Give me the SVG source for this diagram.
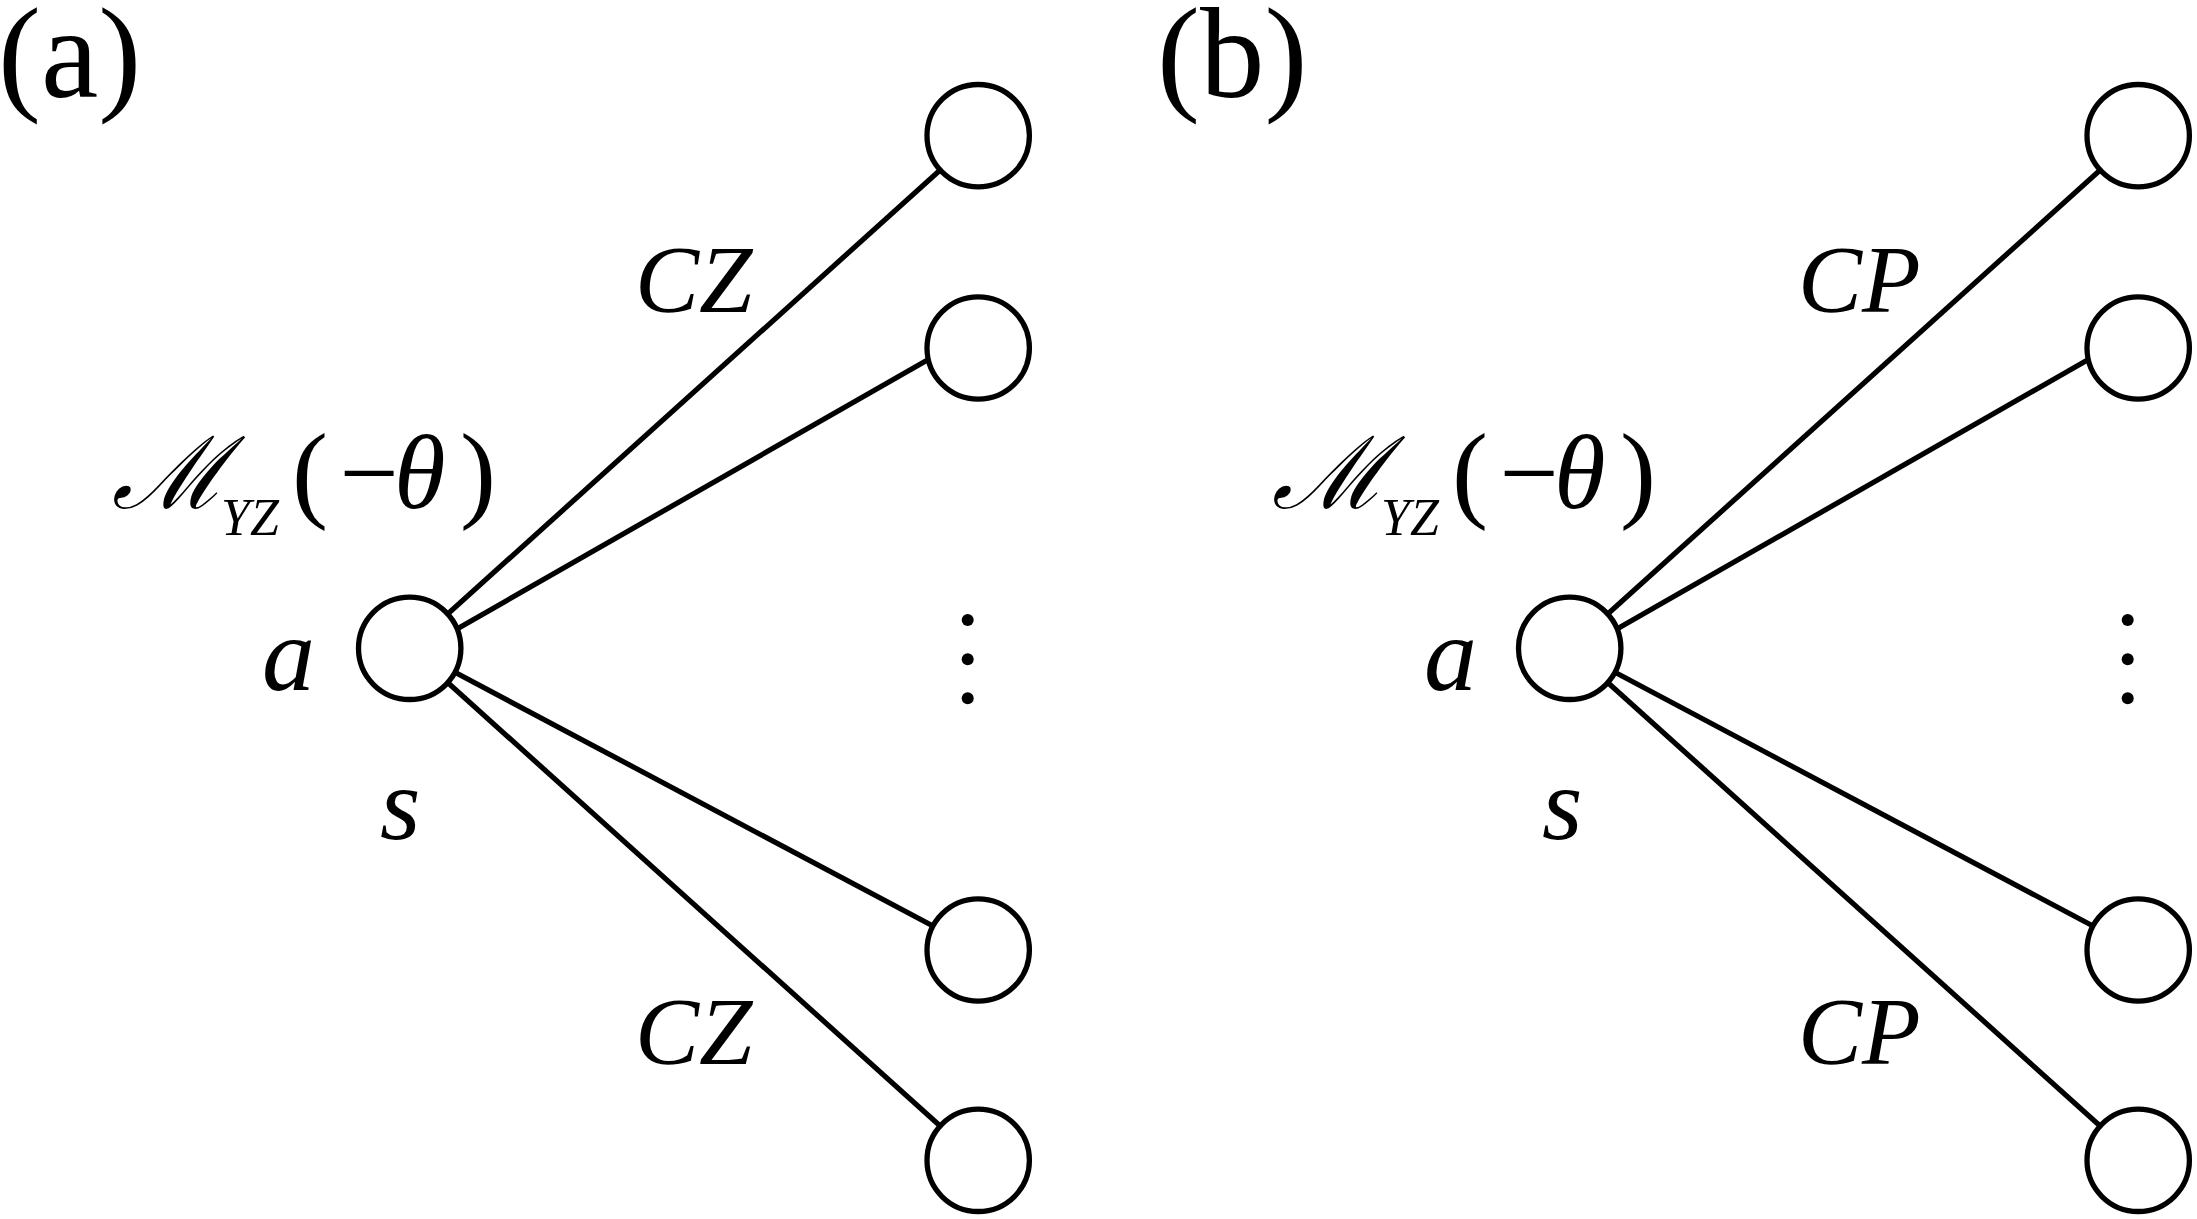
<svg xmlns="http://www.w3.org/2000/svg" width="2197" height="1219" viewBox="0 0 2197 1219">
<style>
.ln{stroke:#000;stroke-width:5.2;fill:none}
.nd{fill:#fff;stroke:#000;stroke-width:5.3}
.dot{fill:#000}
</style>
<rect width="2197" height="1219" fill="#fff"/>

<g id="panel-labels">
<text x="-2" y="97" font-family="Liberation Serif, Times New Roman, serif" font-style="normal" font-size="129" fill="#000">(a)</text>
<text x="1157" y="97" font-family="Liberation Serif, Times New Roman, serif" font-style="normal" font-size="129" fill="#000">(b)</text>
</g>

<g id="connectors">
  <line class="ln" x1="409.7" y1="648.3" x2="978.2" y2="135.7"/>
  <line class="ln" x1="409.7" y1="656" x2="978.2" y2="331"/>
  <line class="ln" x1="409.7" y1="648.3" x2="978.2" y2="950"/>
  <line class="ln" x1="409.7" y1="648.3" x2="978.2" y2="1160.3"/>
  <line class="ln" x1="1569.7" y1="648.3" x2="2138.2" y2="135.7"/>
  <line class="ln" x1="1569.7" y1="656" x2="2138.2" y2="331"/>
  <line class="ln" x1="1569.7" y1="648.3" x2="2138.2" y2="950"/>
  <line class="ln" x1="1569.7" y1="648.3" x2="2138.2" y2="1160.3"/>
</g>

<g id="a-center"><circle class="nd" cx="409.7" cy="648.3" r="51.2"/></g>
<g id="a-n1"><circle class="nd" cx="978.2" cy="135.7" r="51.2"/></g>
<g id="a-n2"><circle class="nd" cx="978.2" cy="348" r="51.2"/></g>
<g id="a-n3"><circle class="nd" cx="978.2" cy="950" r="51.2"/></g>
<g id="a-n4"><circle class="nd" cx="978.2" cy="1160.3" r="51.2"/></g>
<g id="a-dots">
  <circle class="dot" cx="967.7" cy="620" r="6"/>
  <circle class="dot" cx="967.7" cy="659.3" r="6"/>
  <circle class="dot" cx="967.7" cy="698.3" r="6"/>
</g>

<g id="b-center"><circle class="nd" cx="1569.7" cy="648.3" r="51.2"/></g>
<g id="b-n1"><circle class="nd" cx="2138.2" cy="135.7" r="51.2"/></g>
<g id="b-n2"><circle class="nd" cx="2138.2" cy="348" r="51.2"/></g>
<g id="b-n3"><circle class="nd" cx="2138.2" cy="950" r="51.2"/></g>
<g id="b-n4"><circle class="nd" cx="2138.2" cy="1160.3" r="51.2"/></g>
<g id="b-dots">
  <circle class="dot" cx="2127.7" cy="620" r="6"/>
  <circle class="dot" cx="2127.7" cy="659.3" r="6"/>
  <circle class="dot" cx="2127.7" cy="698.3" r="6"/>
</g>

<g id="labels-a">
  <text x="635" y="312" font-family="Liberation Serif, Times New Roman, serif" font-style="italic" font-size="96" fill="#000">CZ</text>
  <text x="635" y="1064" font-family="Liberation Serif, Times New Roman, serif" font-style="italic" font-size="96" fill="#000">CZ</text>
  <text x="262" y="690" font-family="Liberation Serif, Times New Roman, serif" font-style="italic" font-size="106" fill="#000">a</text>
  <text x="380" y="839" font-family="Liberation Serif, Times New Roman, serif" font-style="italic" font-size="104" fill="#000">s</text>
  <text x="112" y="508" font-family="DejaVu Serif" font-style="italic" font-size="100" fill="#000">ℳ</text>
  <text x="221" y="535" font-family="Liberation Serif, Times New Roman, serif" font-style="italic" font-size="52" fill="#000">YZ</text>
  <text x="292" y="508" font-family="Liberation Serif, Times New Roman, serif" font-style="normal" font-size="108" fill="#000">(</text>
  <text x="339.5" y="508" font-family="Liberation Serif, Times New Roman, serif" font-style="normal" font-size="105" fill="#000">−</text>
  <text x="394" y="508" font-family="Liberation Serif, Times New Roman, serif" font-style="italic" font-size="105" fill="#000">θ</text>
  <text x="460" y="508" font-family="Liberation Serif, Times New Roman, serif" font-style="normal" font-size="108" fill="#000">)</text>
</g>

<g id="labels-b">
  <text x="1798" y="312" font-family="Liberation Serif, Times New Roman, serif" font-style="italic" font-size="96" fill="#000">CP</text>
  <text x="1798" y="1064" font-family="Liberation Serif, Times New Roman, serif" font-style="italic" font-size="96" fill="#000">CP</text>
  <text x="1424" y="690" font-family="Liberation Serif, Times New Roman, serif" font-style="italic" font-size="106" fill="#000">a</text>
  <text x="1542" y="839" font-family="Liberation Serif, Times New Roman, serif" font-style="italic" font-size="104" fill="#000">s</text>
  <text x="1272" y="508" font-family="DejaVu Serif" font-style="italic" font-size="100" fill="#000">ℳ</text>
  <text x="1381" y="535" font-family="Liberation Serif, Times New Roman, serif" font-style="italic" font-size="52" fill="#000">YZ</text>
  <text x="1452" y="508" font-family="Liberation Serif, Times New Roman, serif" font-style="normal" font-size="108" fill="#000">(</text>
  <text x="1499.5" y="508" font-family="Liberation Serif, Times New Roman, serif" font-style="normal" font-size="105" fill="#000">−</text>
  <text x="1554" y="508" font-family="Liberation Serif, Times New Roman, serif" font-style="italic" font-size="105" fill="#000">θ</text>
  <text x="1620" y="508" font-family="Liberation Serif, Times New Roman, serif" font-style="normal" font-size="108" fill="#000">)</text>
</g>
</svg>
